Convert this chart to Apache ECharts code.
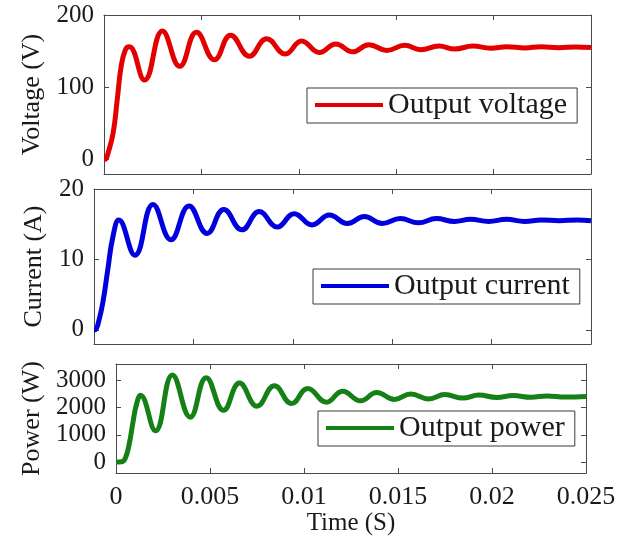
<!DOCTYPE html>
<html>
<head>
<meta charset="utf-8">
<script src="https://cdn.jsdelivr.net/npm/echarts@6/dist/echarts.min.js"></script>
<style>
  html, body { margin: 0; padding: 0; background: #fff; }
  #chart { width: 628px; height: 541px; }
</style>
</head>
<body>
<div id="chart"></div>
<script>
// values (peaks, troughs and points on the rise)
const voltageTime = [0, 0.0001, 0.0002, 0.00047, 0.00068, 0.00088, 0.0011, 0.0013, 0.00208, 0.0030, 0.00389, 0.00475, 0.00567, 0.0065, 0.00746, 0.00835, 0.00931, 0.01014, 0.01106, 0.0119, 0.01277, 0.0136, 0.01452, 0.01544, 0.01626, 0.01719, 0.01801, 0.01894, 0.01986, 0.02068, 0.0216, 0.02243, 0.02335, 0.0242, 0.025];
const voltageValues = [0, 1, 8, 37, 83, 129, 152, 156, 110, 178, 129, 176, 138, 172, 143, 167, 146, 164, 148, 160, 149, 159, 151, 158, 152, 157, 153, 157, 154, 156, 154.5, 156, 154.8, 155.8, 155];

const currentTime = [0, 0.0001, 0.0002, 0.00044, 0.00069, 0.00095, 0.00125, 0.00206, 0.00297, 0.00387, 0.00478, 0.00569, 0.00653, 0.00744, 0.00831, 0.00922, 0.01007, 0.01097, 0.01184, 0.01275, 0.0136, 0.0145, 0.01541, 0.01632, 0.01722, 0.01813, 0.01894, 0.01985, 0.02075, 0.02166, 0.0225, 0.0234, 0.0243, 0.025];
const currentValues = [0, 0.1, 0.8, 3.8, 8.5, 13.2, 15.6, 10.6, 17.8, 12.8, 17.6, 13.7, 17.1, 14.2, 16.8, 14.6, 16.5, 14.9, 16.3, 15.1, 16.1, 15.1, 15.8, 15.2, 15.8, 15.4, 15.7, 15.4, 15.7, 15.4, 15.6, 15.5, 15.6, 15.5];

const powerTime = [0, 0.0003, 0.0005, 0.0007, 0.0009, 0.0011, 0.0013, 0.0021, 0.0030, 0.00395, 0.0048, 0.00572, 0.00657, 0.0075, 0.00843, 0.00934, 0.0102, 0.0112, 0.01205, 0.01301, 0.01387, 0.01482, 0.01568, 0.01664, 0.01749, 0.01845, 0.0193, 0.02026, 0.02112, 0.02208, 0.02293, 0.02389, 0.025];
const powerValues = [0, 10, 150, 650, 1450, 2150, 2450, 1150, 3200, 1650, 3100, 1900, 2900, 2050, 2800, 2150, 2700, 2200, 2600, 2250, 2550, 2300, 2500, 2320, 2480, 2350, 2460, 2370, 2440, 2380, 2430, 2390, 2410];

const timeTicks = [0, 0.005, 0.01, 0.015, 0.02, 0.025];
const voltageTicks = [0, 100, 200];
const currentTicks = [0, 10, 20];
const powerTicks = [0, 1000, 2000, 3000];

const seriesNames = ['Output voltage', 'Output current', 'Output power'];
const yNames = ['Voltage (V)', 'Current (A)', 'Power (W)'];

const FONT = '"Liberation Serif", "Times New Roman", serif';
const AXIS_COLOR = '#4a4a4a';
const TEXT_COLOR = '#1a1a1a';

const panels = [
    { grid: { left: 104, top: 15, width: 487, height: 159 }, yMin: -20, yMax: 200, yTicks: voltageTicks,
      time: voltageTime, values: voltageValues, color: '#e30000', nameGap: 57, legend: { left: 307, top: 88 } },
    { grid: { left: 94, top: 189, width: 497, height: 155 }, yMin: -2, yMax: 20, yTicks: currentTicks,
      time: currentTime, values: currentValues, color: '#0000dd', nameGap: 47, legend: { left: 313, top: 269 } },
    { grid: { left: 116, top: 364, width: 470, height: 109 }, yMin: -400, yMax: 3600, yTicks: powerTicks,
      time: powerTime, values: powerValues, color: '#158015', nameGap: 69, legend: { left: 318, top: 411 } }
];

const chart = echarts.init(document.getElementById('chart'));

const grids = [], xAxes = [], yAxes = [], series = [], legends = [];
const topX = [], rightY = [];

// box style axis: line on every side, short ticks pointing in
function frameAxis(extra) {
    return Object.assign({
        type: 'value',
        axisLine: { show: true, onZero: false, lineStyle: { color: AXIS_COLOR, width: 1 } },
        axisLabel: { show: false },
        splitLine: { show: false }
    }, extra);
}

panels.forEach((p, i) => {
    grids.push(Object.assign({ containLabel: false }, p.grid));
    const last = i === panels.length - 1;
    xAxes.push(frameAxis({
        gridIndex: i, min: 0, max: 0.025, position: 'bottom',
        axisTick: { show: true, inside: true, length: 5, customValues: timeTicks, lineStyle: { color: AXIS_COLOR } },
        axisLabel: { show: last, customValues: timeTicks, margin: 11, fontSize: 26, fontFamily: FONT, color: TEXT_COLOR,
            formatter: v => String(+v.toFixed(3)) },
        name: last ? 'Time (S)' : '', nameLocation: 'middle', nameGap: 35,
        nameTextStyle: { fontSize: 25, fontFamily: FONT, color: TEXT_COLOR }
    }));
    topX.push(frameAxis({
        gridIndex: i, min: 0, max: 0.025, position: 'top',
        axisTick: { show: true, inside: true, length: 5, customValues: timeTicks, lineStyle: { color: AXIS_COLOR } }
    }));
    yAxes.push(frameAxis({
        gridIndex: i, min: p.yMin, max: p.yMax, position: 'left',
        axisTick: { show: true, inside: true, length: 5, customValues: p.yTicks, lineStyle: { color: AXIS_COLOR } },
        axisLabel: { show: true, customValues: p.yTicks, margin: 10, fontSize: 25, fontFamily: FONT, color: TEXT_COLOR,
            formatter: v => String(v) },
        name: yNames[i], nameLocation: 'middle', nameGap: p.nameGap,
        nameTextStyle: { fontSize: 26, fontFamily: FONT, color: TEXT_COLOR }
    }));
    rightY.push(frameAxis({
        gridIndex: i, min: p.yMin, max: p.yMax, position: 'right',
        axisTick: { show: true, inside: true, length: 5, customValues: p.yTicks, lineStyle: { color: AXIS_COLOR } }
    }));
    series.push({
        name: seriesNames[i], type: 'line', xAxisIndex: i, yAxisIndex: i,
        data: p.time.map((t, k) => [t, p.values[k]]),
        showSymbol: false, smooth: 0.45, clip: true,
        lineStyle: { color: p.color, width: 5 },
        itemStyle: { color: p.color },
        animation: false
    });
    legends.push({
        data: [seriesNames[i]], left: p.legend.left, top: p.legend.top,
        orient: 'horizontal', icon: 'rect', itemWidth: 68, itemHeight: 4, itemGap: 5,
        padding: [1, 10, 2, 8], borderColor: '#3a3a3a', borderWidth: 1, backgroundColor: '#fff',
        textStyle: { fontSize: 30, fontFamily: FONT, color: TEXT_COLOR, lineHeight: 32 }
    });
});

chart.setOption({
    backgroundColor: '#fff',
    animation: false,
    grid: grids,
    xAxis: xAxes.concat(topX),
    yAxis: yAxes.concat(rightY),
    legend: legends,
    series: series
});
</script>
</body>
</html>
